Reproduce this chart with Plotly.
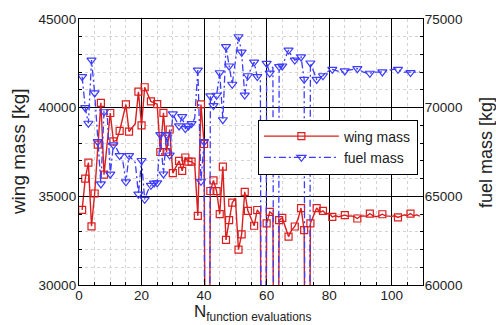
import plotly.graph_objects as go

# ---------------- data ----------------
evals = list(range(1, 110))

wing_mass = [
    34240, 36000, 36900, 33310, 35160, 37920, 40270, 36220, 38000, 39700,   # 1-10
    38100, 38150, 38690, 39400, 40180, 38650, 38850, 39100, 40900, 39000,   # 11-20
    41150, 40750, 40350, 40270, 40200, 37500, 39710, 37500, 38770, 36310,   # 21-30
    36650, 37000, 36440, 37190, 36960, 36960, 36800, 33900, 40180, 37950,   # 31-40
    0,     35300, 35900, 35290, 34000, 36680, 32540, 33660, 34640, 34900,   # 41-50
    31990, 32850, 35250, 34180, 33800, 33340, 34230, 34000, 0,     33480,   # 51-60
    34120, 34000, 0,     33660, 33780, 33200, 32730, 33100, 33300, 33700,   # 61-70
    34340, 33100, 0,     33480, 33950, 34340, 34100, 34180, 34000, 34060,   # 71-80
    33840, 33900, 33850, 33880, 33940, 33880, 33900, 33860, 33750, 33880,   # 81-90
    33900, 33870, 34030, 33900, 33850, 33900, 33990, 33900, 33880, 33870,   # 91-100
    33900, 33810, 33880, 33950, 33920, 34030, 33900, 33950, 33880,          # 101-109
]

fuel_mass = [
    71750, 70000, 69120, 72680, 70830, 68080, 65700, 69770, 69700, 66250,   # 1-10
    67900, 67700, 67300, 67000, 65820, 67300, 67100, 66900, 65120, 67020,   # 11-20
    64830, 65300, 65620, 65750, 65760, 68480, 66260, 68480, 67330, 69650,   # 21-30
    69300, 68970, 69500, 68820, 68970, 69100, 69400, 72120, 65850, 68080,   # 31-40
    0,     70660, 70120, 70700, 71970, 69320, 73440, 72350, 71320, 72600,   # 41-50
    74000, 73130, 70710, 71800, 72200, 72570, 71750, 71500, 0,     72500,   # 51-60
    71950, 72300, 0,     72320, 72350, 72800, 73250, 72900, 72680, 72750,   # 61-70
    72860, 71600, 0,     72520, 72000, 71590, 71700, 71800, 72000, 72100,   # 71-80
    72160, 72100, 72050, 72000, 72070, 72100, 72150, 72180, 72200, 72100,   # 81-90
    72000, 71950, 71940, 72000, 72020, 72000, 72015, 72050, 72100, 72150,   # 91-100
    72180, 72160, 72050, 72000, 72000, 71980, 72000, 72020, 72010,          # 101-109
]

# evaluations that carry a visible symbol (the line is drawn through all of them)
wing_marked = [1, 2, 3, 4, 5, 6, 7, 8, 10, 11, 13, 15, 16, 19, 20, 21, 23, 25, 26,
               27, 28, 29, 30, 32, 33, 34, 35, 36, 38, 39, 40, 42, 43, 44, 45, 46,
               47, 48, 49, 51, 52, 53, 54, 56, 57, 60, 61, 64, 65, 67, 69, 71, 72,
               74, 76, 78, 81, 85, 89, 93, 97, 102, 106]
fuel_marked = [1, 2, 3, 4, 5, 6, 7, 8, 10, 11, 13, 15, 16, 19, 20, 21, 23, 24, 25,
               26, 27, 28, 29, 30, 32, 33, 34, 35, 36, 38, 39, 40, 42, 43, 44, 45,
               46, 47, 48, 49, 51, 52, 53, 54, 56, 57, 60, 61, 64, 65, 67, 69, 71,
               72, 74, 76, 78, 81, 85, 89, 93, 97, 102, 106]

x_ticks = [0, 20, 40, 60, 80, 100]
wing_ticks = [30000, 35000, 40000, 45000]
fuel_ticks = [60000, 65000, 70000, 75000]

# ---------------- style ----------------
RED = '#dc1e1e'
BLUE = '#3c3cff'
CLEAR = 'rgba(0,0,0,0)'
FONT = 'Liberation Sans, Arial, sans-serif'

wing_colors = [RED if x in wing_marked else CLEAR for x in evals]
fuel_colors = [BLUE if x in fuel_marked else CLEAR for x in evals]

fig = go.Figure()

fig.add_trace(go.Scatter(
    x=evals, y=wing_mass, name='wing mass', mode='lines+markers',
    line=dict(color=RED, width=1.4),
    marker=dict(symbol='square-open', size=7, color=wing_colors,
                line=dict(color=wing_colors, width=1.2)),
    yaxis='y',
))
fig.add_trace(go.Scatter(
    x=evals, y=fuel_mass, name='fuel mass', mode='lines+markers',
    line=dict(color=BLUE, width=1.3, dash='7px,3px,2px,3px'),
    marker=dict(symbol='triangle-down-open', size=8, color=fuel_colors,
                line=dict(color=fuel_colors, width=1.2)),
    yaxis='y2',
))

axis_common = dict(
    showline=True, linecolor='black', linewidth=1.3,
    ticks='inside', ticklen=6, tickcolor='black', tickwidth=1,
    tickfont=dict(family=FONT, size=13.5, color='#222'),
    tickformat='d',
    zeroline=False,
)

fig.update_layout(
    width=496, height=325,
    margin=dict(l=79, r=73, t=16, b=40),
    paper_bgcolor='white', plot_bgcolor='white',
    font=dict(family=FONT, color='#222'),
    showlegend=True,
    legend=dict(
        x=0.52, y=0.622, xanchor='left', yanchor='top',
        bgcolor='white', bordercolor='black', borderwidth=1,
        font=dict(family=FONT, size=14, color='#222'),
        itemwidth=75, tracegroupgap=0,
    ),
    xaxis=dict(
        range=[0, 110], tickvals=x_ticks, mirror=True,
        showgrid=True, gridcolor='black', gridwidth=1,
        ticklabelstandoff=-2,
        minor=dict(dtick=5, tick0=0, ticks='inside', ticklen=3, tickcolor='black',
                   showgrid=True, gridcolor='#d4d4d4', griddash='dot', gridwidth=1),
        **axis_common,
    ),
    yaxis=dict(
        range=[30000, 45000], tickvals=wing_ticks,
        showgrid=True, gridcolor='black', gridwidth=1,
        ticklabelstandoff=-1,
        minor=dict(dtick=1000, tick0=30000, ticks='inside', ticklen=3, tickcolor='black',
                   showgrid=True, gridcolor='#d4d4d4', griddash='dot', gridwidth=1),
        **axis_common,
    ),
    yaxis2=dict(
        range=[60000, 75000], tickvals=fuel_ticks, overlaying='y', side='right',
        showgrid=False,
        ticklabelstandoff=-2,
        minor=dict(dtick=1000, tick0=60000, ticks='inside', ticklen=3, tickcolor='black'),
        **axis_common,
    ),
    annotations=[
        dict(text='wing mass [kg]', xref='paper', yref='paper', x=-0.177, y=0.5,
             textangle=-90, showarrow=False, xanchor='center', yanchor='middle',
             font=dict(family=FONT, size=19, color='#222')),
        dict(text='fuel mass [kg]', xref='paper', yref='paper', x=1.183, y=0.5,
             textangle=-90, showarrow=False, xanchor='center', yanchor='middle',
             font=dict(family=FONT, size=18, color='#222')),
        dict(text='N<sub>function evaluations</sub>', xref='paper', yref='paper',
             x=0.503, y=-0.105, showarrow=False, xanchor='center', yanchor='middle',
             font=dict(family=FONT, size=17, color='#222')),
    ],
)

fig.write_html('out.html')
